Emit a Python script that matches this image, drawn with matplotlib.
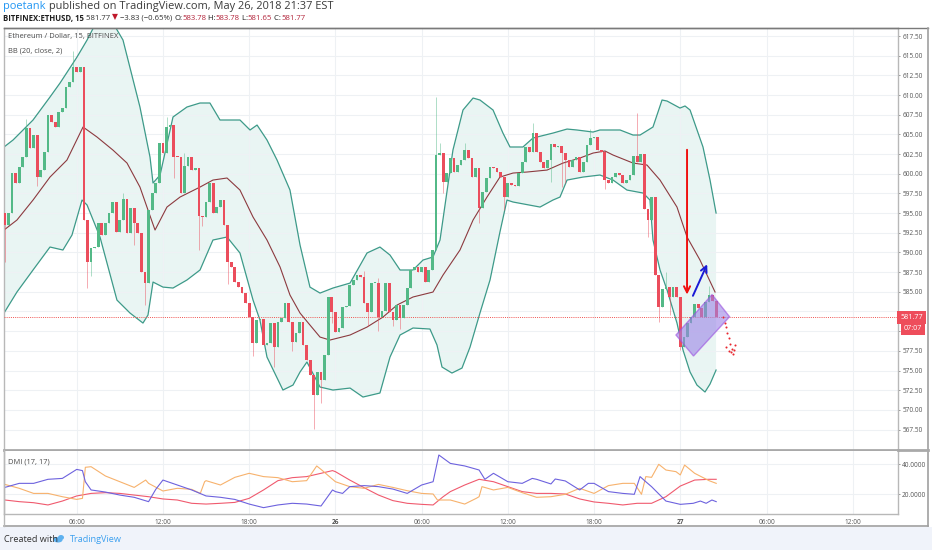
import matplotlib
matplotlib.use('agg')
import matplotlib.pyplot as plt
import matplotlib.transforms as mtransforms
from matplotlib.patches import Polygon, Rectangle, Ellipse
from matplotlib.lines import Line2D
import numpy as np

plt.rcParams['font.family'] = ['Open Sans', 'DejaVu Sans']

W, H = 932, 550

# ETH/USD 15 min candles, first bar 25 May 01:00 (x axis = hours since 25 May 00:00)
first_open = 594.97
closes = [
    593.48, 594.97, 600.05, 598.78, 600.90, 602.17, 605.77, 603.22, 604.92, 599.62,
    600.47, 602.80, 607.46, 606.61, 605.98, 607.88, 608.31, 611.06, 611.70, 613.60,
    612.97, 613.60, 594.12, 588.82, 590.52, 590.73, 593.78, 592.21, 593.78, 594.97,
    596.36, 592.64, 594.12, 596.74, 592.42, 595.60, 593.69, 592.42, 587.55, 586.07,
    595.39, 597.51, 598.78, 603.86, 602.59, 605.98, 606.19, 602.17, 602.08, 597.51,
    600.98, 602.17, 600.47, 600.68, 594.63, 594.54, 596.45, 598.78, 594.97, 595.81,
    596.66, 593.48, 588.82, 588.19, 586.28, 585.65, 584.80, 583.53, 581.84, 578.45,
    581.42, 581.50, 578.24, 578.45, 580.99, 578.03, 581.21, 581.63, 583.54, 581.21,
    578.66, 579.72, 581.21, 578.24, 576.33, 574.43, 571.89, 574.85, 573.79, 576.97,
    584.38, 582.48, 579.94, 580.36, 583.11, 583.20, 585.86, 586.50, 587.13, 586.92,
    583.53, 582.47, 586.07, 586.16, 581.84, 582.60, 586.07, 582.47, 581.41, 583.32,
    581.62, 583.32, 585.44, 587.77, 588.19, 587.55, 588.19, 586.28, 587.77, 590.31,
    602.38, 602.59, 598.99, 600.05, 601.95, 600.26, 601.11, 601.74, 603.01, 601.95,
    599.62, 600.68, 595.60, 597.72, 599.41, 600.90, 600.68, 600.26, 599.62, 597.08,
    598.78, 598.57, 598.44, 600.05, 601.53, 603.44, 602.80, 605.22, 602.80, 601.53,
    600.68, 601.74, 603.73, 603.44, 603.52, 602.59, 601.74, 600.90, 601.74, 602.17,
    600.26, 601.53, 603.65, 604.50, 604.71, 603.01, 602.80, 599.20, 598.78, 599.62,
    600.05, 599.84, 598.78, 599.20, 599.84, 602.25, 601.53, 602.50, 595.50, 594.10,
    597.10, 587.10, 583.10, 585.40, 585.60, 584.40, 585.60, 584.40, 578.00, 579.30,
    581.00, 581.80, 583.50, 582.90, 581.80, 583.70, 584.60, 583.78, 581.77,
]
# visible wicks (bar index: price)
wick_high = {6: 607.0, 19: 615.6, 33: 597.6, 45: 607.2, 50: 602.6, 100: 587.6,
             104: 586.8, 120: 609.8, 121: 603.9, 128: 603.9, 147: 606.4,
             163: 605.7, 176: 607.7, 184: 587.5, 196: 585.7}
wick_low = {0: 588.8, 9: 598.4, 23: 585.5, 24: 587.0, 36: 591.0, 39: 583.3,
            47: 599.4, 54: 590.3, 55: 593.4, 62: 586.0, 69: 576.8, 75: 575.5,
            80: 577.5, 86: 567.6, 88: 570.9, 91: 581.0, 101: 580.6, 104: 580.0,
            108: 580.6, 110: 580.3, 122: 597.5, 132: 593.7, 139: 595.4,
            152: 599.0, 155: 598.3, 156: 598.8, 167: 598.0, 179: 592.0,
            182: 581.2, 185: 582.0, 188: 577.6}

# Bollinger Bands (20, close, 2)
bb_up_t = [0.94, 1.57, 2.96, 4.14, 4.84, 6.02, 6.72, 7.62, 8.32, 9.22, 10.40, 11.10,
           11.31, 11.80, 12.70, 13.67, 14.58, 15.27, 15.97, 17.36, 18.06, 18.55, 19.24,
           19.94, 20.84, 21.54, 22.23, 22.93, 23.83, 25.02, 26.20, 27.10, 27.80, 28.50,
           29.40, 30.10, 30.79, 31.28, 32.18, 32.88, 33.58, 34.06, 34.97, 35.66, 36.15,
           37.05, 37.75, 39.14, 40.12, 40.81, 41.93, 42.41, 43.81, 44.71, 45.20, 46.10,
           46.73, 47.08, 47.98, 48.33, 48.68, 49.58, 50.07, 50.49]
bb_up = [603.40, 604.29, 606.83, 609.75, 611.53, 614.83, 616.99, 620.17, 619.79, 616.99,
         608.48, 602.12, 598.82, 599.84, 607.21, 608.48, 608.99, 608.99, 606.83, 606.83,
         605.56, 606.19, 604.29, 601.74, 597.93, 590.94, 585.60, 584.84, 585.48, 586.11,
         589.93, 590.69, 589.67, 587.77, 587.77, 589.04, 589.42, 591.58, 603.01, 608.10,
         609.62, 609.37, 608.10, 605.17, 603.40, 603.40, 604.54, 605.17, 605.68, 605.56,
         605.30, 605.56, 605.56, 604.92, 604.92, 605.94, 609.37, 609.24, 608.35, 608.61,
         608.10, 603.40, 599.20, 595.01]
bb_mid_t = [0.94, 1.84, 2.96, 4.14, 5.32, 6.44, 7.41, 8.52, 9.50, 10.40, 10.96, 11.45,
            12.28, 13.19, 14.58, 15.48, 16.46, 17.36, 18.27, 19.24, 20.15, 20.84, 21.54,
            22.23, 22.93, 23.62, 25.02, 26.20, 27.31, 28.29, 29.40, 30.79, 31.49, 32.67,
            33.58, 34.55, 35.45, 36.36, 37.33, 38.73, 39.84, 41.02, 41.93, 42.76, 43.32,
            44.71, 45.68, 46.59, 47.77, 48.47, 49.37, 50.42]
bb_mid = [592.85, 594.12, 596.66, 599.58, 601.74, 605.94, 604.67, 603.01, 601.36, 598.31,
          595.39, 592.85, 595.77, 597.04, 598.31, 599.20, 599.46, 597.93, 594.50, 591.58,
          588.15, 584.59, 582.30, 580.78, 579.25, 578.87, 579.51, 580.52, 581.79, 583.32,
          584.34, 584.97, 587.13, 590.31, 594.12, 597.04, 599.58, 600.09, 600.22, 600.47,
          601.36, 602.00, 602.63, 602.89, 602.38, 601.36, 601.11, 599.20, 595.77, 591.96,
          589.04, 584.97]
bb_lo_t = [0.94, 1.84, 2.96, 4.14, 5.04, 5.67, 6.37, 6.72, 7.62, 8.80, 9.71, 10.61, 10.96,
           11.31, 12.00, 12.70, 13.67, 14.58, 15.48, 16.46, 17.36, 18.27, 18.75, 19.24,
           20.35, 21.05, 21.54, 22.02, 22.93, 23.83, 25.02, 25.92, 27.10, 27.80, 28.50,
           29.40, 30.58, 31.07, 31.42, 32.11, 32.81, 33.37, 34.06, 34.76, 35.45, 35.94,
           36.36, 38.24, 39.14, 39.63, 40.12, 41.23, 42.41, 43.32, 44.29, 45.41, 45.89,
           46.10, 46.59, 47.08, 47.77, 48.19, 48.68, 49.16, 49.72, 50.07, 50.49]
bb_lo = [582.30, 584.97, 587.77, 590.69, 590.31, 592.21, 596.66, 596.03, 591.96, 583.95,
         582.30, 581.03, 582.05, 586.24, 585.60, 585.48, 586.50, 587.77, 591.58, 591.96,
         589.93, 583.95, 581.41, 576.71, 572.52, 573.15, 574.81, 576.08, 572.90, 572.52,
         572.77, 571.63, 572.14, 576.71, 579.51, 580.40, 580.27, 578.24, 575.44, 574.68,
         575.31, 577.98, 582.30, 586.50, 592.59, 596.66, 596.41, 595.77, 596.66, 597.04,
         599.20, 599.58, 599.84, 599.20, 597.93, 597.55, 596.66, 591.58, 587.77, 585.23,
         581.03, 577.60, 574.81, 573.15, 572.27, 573.28, 575.06]

# DMI (17, 17)
plus_di_t = [1, 2, 3, 4, 5, 6, 6.4, 6.6, 7, 8, 9, 10, 11, 11.5, 12, 13, 14, 15, 16, 17,
             18, 19, 20, 21, 22, 23, 23.8, 24, 24.5, 25, 26, 27, 28, 29, 30, 30.8, 31.2,
             32, 33, 34, 34.4, 35, 36, 37, 37.7, 38, 39, 39.3, 40, 41, 41.6, 42, 43, 44,
             44.8, 45.2, 45.6, 46, 47, 48, 48.9, 49.4, 49.8, 50.2, 50.5]
plus_di = [24.6, 27.3, 27.3, 30.0, 30.6, 36.6, 35.8, 28.4, 22.9, 21.5, 19.5, 18.0, 15.1,
           23.3, 29.5, 26.2, 22.9, 18.9, 18.0, 16.6, 13.5, 11.1, 12.9, 14.0, 13.5, 12.2,
           22.9, 21.8, 20.6, 25.1, 25.8, 25.1, 23.5, 20.6, 26.2, 28.4, 46.2, 40.6, 38.9,
           36.2, 30.0, 34.0, 28.4, 27.3, 30.6, 30.0, 26.9, 30.2, 28.9, 22.9, 27.3, 27.3,
           21.8, 20.6, 20.0, 31.8, 28.4, 25.1, 15.5, 13.3, 14.0, 15.5, 14.0, 16.2, 15.1]
minus_di_t = [1, 2, 3, 4, 5, 6, 6.4, 6.6, 7, 8, 9, 10, 10.8, 11, 12, 13, 14, 14.6, 14.9,
              15, 16, 17, 18, 19, 20, 21, 22, 22.7, 23, 24, 25, 26, 27, 28, 29, 30, 30.8,
              31.1, 32, 33, 33.8, 34, 34.2, 35, 36, 37, 38, 39, 40, 41, 42, 43, 44, 44.8,
              45.3, 45.6, 46, 46.5, 47, 47.7, 48, 48.3, 49, 50, 50.5]
minus_di = [26.6, 24.0, 20.6, 20.6, 18.4, 16.6, 17.3, 38.0, 38.4, 32.2, 28.4, 24.6, 29.5,
            27.3, 22.2, 24.0, 23.3, 20.6, 28.4, 29.1, 26.2, 31.3, 34.0, 31.8, 31.1, 28.4,
            29.1, 38.9, 36.6, 28.4, 25.1, 24.0, 26.6, 24.6, 22.4, 20.6, 20.2, 16.2, 16.2,
            13.5, 17.3, 18.4, 25.1, 22.9, 24.6, 21.1, 18.0, 18.4, 20.0, 24.0, 20.6, 25.8,
            27.3, 27.3, 20.0, 31.8, 31.3, 40.0, 36.2, 35.1, 32.9, 39.5, 34.0, 29.1, 27.3]
adx_t = [1, 2, 3, 4, 5, 6, 7, 8, 9, 10, 11, 12, 13, 14, 15, 16, 17, 18, 19, 20, 21, 22,
         23, 23.8, 24, 25, 26, 27, 28, 29, 30, 30.8, 31.5, 32, 33, 34, 35, 36, 37, 38, 39,
         40, 41, 42, 43, 44, 45, 46, 47, 48, 49, 50, 50.5]
adx = [16.2, 15.1, 14.4, 12.9, 15.5, 18.9, 20.6, 21.1, 20.6, 19.5, 18.4, 16.9, 16.2, 14.0,
       13.5, 14.0, 14.6, 17.3, 22.9, 29.1, 31.1, 31.8, 34.0, 35.8, 35.1, 29.5, 24.4, 19.5,
       15.8, 14.0, 13.3, 12.9, 18.4, 21.8, 26.2, 30.0, 28.4, 25.1, 21.8, 20.6, 20.6, 20.2,
       16.9, 14.9, 14.0, 12.9, 14.0, 14.0, 18.4, 25.5, 29.5, 30.0, 30.0]

# drawings on the chart
down_arrow = [(48.47, 603.4), (48.47, 584.3)]
up_arrow = [(48.80, 584.17), (49.95, 588.82)]
box = [(47.70, 579.51), (48.92, 576.84), (51.43, 581.83), (50.21, 584.65)]
dots_t = [50.95, 51.09, 51.18, 51.25, 51.37, 51.46, 51.83, 51.60, 51.18, 51.41, 51.55, 51.72, 51.65]
dots_p = [581.83, 581.00, 580.49, 579.80, 579.09, 578.36, 578.24, 577.73, 577.94, 577.47, 577.31, 577.56, 577.06]

time_ticks = [6, 12, 18, 24, 30, 36, 42, 48, 54, 60]
time_labels = ['06:00', '12:00', '18:00', '26', '06:00', '12:00', '18:00', '27', '06:00', '12:00']
price_ticks = np.arange(567.5, 618.0, 2.5)
hidden_price_labels = [580.0, 582.5]   # covered by the last-price tags

GREEN, RED = '#53b987', '#eb4d5c'
GRID = '#eef1f4'
TXT = '#4a4a4a'

fig = plt.figure(figsize=(W / 100, H / 100), dpi=100)
fig.patch.set_facecolor('white')

def fx(px):
    return px / W

def fy(py):
    return 1 - py / H

# ---- main price pane
ax = fig.add_axes([fx(4), fy(450), (898 - 4) / W, (450 - 28) / H])
ax.set_xlim(0.94, 63.15)
ax.set_ylim(564.9, 618.52)
ax.set_xticks(time_ticks)
ax.set_xticklabels([])
ax.tick_params(axis='x', length=0)
ax.set_yticks(price_ticks)
ax.set_yticklabels(['' if p in hidden_price_labels else '%.2f' % p for p in price_ticks])
ax.yaxis.tick_right()
ax.tick_params(axis='y', length=1.5, width=0.6, pad=1.5, labelsize=4.7, colors='#888888', labelcolor='#555555')
ax.grid(True, color=GRID, lw=0.8, zorder=0)
for s in ['left', 'right']:
    ax.spines[s].set_color('#b8b8b8')
    ax.spines[s].set_linewidth(1.0)
ax.spines['top'].set_color('#7a7a7a')
ax.spines['top'].set_linewidth(1.0)
ax.spines['bottom'].set_color('#a9a9a9')
ax.spines['bottom'].set_linewidth(2.0)

# Bollinger band fill and lines
ax.fill(np.r_[bb_up_t, bb_lo_t[::-1]], np.r_[bb_up, bb_lo[::-1]], color='#e4f3f0', alpha=0.8, lw=0, zorder=1)
ax.plot(bb_up_t, bb_up, color='#3d9a89', lw=0.9, zorder=2)
ax.plot(bb_lo_t, bb_lo, color='#3d9a89', lw=0.9, zorder=2)
ax.plot(bb_mid_t, bb_mid, color='#8c3a3f', lw=0.8, zorder=2)

# candles
c = np.array(closes)
o = np.r_[first_open, c[:-1]]
t = 1.0 + 0.25 * np.arange(len(c))
hi = np.maximum(o, c)
lo = np.minimum(o, c)
for i, v in wick_high.items():
    hi[i] = v
for i, v in wick_low.items():
    lo[i] = v
col = np.where(c >= o, GREEN, RED)
ax.vlines(t, lo, hi, colors=col, lw=0.6, alpha=0.55, zorder=3)
ax.bar(t, np.maximum(np.abs(c - o), 0.14), bottom=np.minimum(o, c), width=0.19,
       color=col, lw=0, zorder=4)

# last price line and tags
ax.axhline(c[-1], color='#ef5350', lw=0.7, ls=(0, (1, 1.2)), zorder=3)
tr = mtransforms.blended_transform_factory(ax.transAxes, ax.transData)
ax.text(1.0025, c[-1], '%.2f' % c[-1], transform=tr, ha='left', va='center', fontsize=5.2,
        color='white', zorder=10, clip_on=False,
        bbox=dict(boxstyle='square,pad=0.4', fc='#ee4d5b', ec='none'))
ax.annotate('07:07', xy=(1.0025, c[-1]), xycoords=tr, xytext=(2.5, -8.3), textcoords='offset points',
            ha='left', va='center', fontsize=5.2, color='white', zorder=10, annotation_clip=False,
            bbox=dict(boxstyle='square,pad=0.4', fc='#ee4d5b', ec='none'))

# drawings
ax.add_patch(Polygon(box, closed=True, fc='#9b84e6', ec='#9b4fe0', lw=1.0, alpha=0.6, zorder=6))
ax.annotate('', xy=down_arrow[1], xytext=down_arrow[0],
            arrowprops=dict(arrowstyle='->', color='#f01010', lw=1.4, mutation_scale=11), zorder=7)
ax.annotate('', xy=up_arrow[1], xytext=up_arrow[0],
            arrowprops=dict(arrowstyle='->', color='#1a1ad6', lw=1.4, mutation_scale=11), zorder=7)
ax.scatter(dots_t, dots_p, s=2.2, color='#e8272f', lw=0, zorder=7)

ax.text(0.0045, 0.979, 'Ethereum / Dollar, 15, BITFINEX', transform=ax.transAxes, fontsize=5.4,
        color=TXT, va='center', ha='left')
ax.text(0.0045, 0.946, 'BB (20, close, 2)', transform=ax.transAxes, fontsize=5.4,
        color=TXT, va='center', ha='left')

# ---- DMI pane
ax2 = fig.add_axes([fx(4), fy(514), (898 - 4) / W, (514 - 451) / H])
ax2.set_xlim(0.94, 63.15)
ax2.set_ylim(6.87, 48.87)
ax2.plot(adx_t, adx, color='#f05a6e', lw=0.8)
ax2.plot(minus_di_t, minus_di, color='#f7b26d', lw=0.8)
ax2.plot(plus_di_t, plus_di, color='#6d62de', lw=0.8)
ax2.set_yticks([20, 40])
ax2.set_yticklabels(['20.0000', '40.0000'])
ax2.yaxis.tick_right()
ax2.tick_params(axis='y', length=1.5, width=0.6, pad=1.5, labelsize=4.7, colors='#888888', labelcolor='#555555')
ax2.set_xticks(time_ticks)
ax2.set_xticklabels(time_labels)
ax2.tick_params(axis='x', length=0, pad=3.6, labelsize=4.7, labelcolor='#555555')
for lab in ax2.get_xticklabels():
    if lab.get_text() in ('26', '27'):
        lab.set_fontweight('bold')
ax2.grid(True, color=GRID, lw=0.8, zorder=0)
ax2.spines['top'].set_visible(False)
for s in ['left', 'right', 'bottom']:
    ax2.spines[s].set_color('#b8b8b8')
    ax2.spines[s].set_linewidth(1.0)
ax2.text(0.0045, 0.82, 'DMI (17, 17)', transform=ax2.transAxes, fontsize=5.4,
         color=TXT, va='center', ha='left')

# outer frame of the chart
fig.add_artist(Line2D([fx(4), fx(928)], [fy(28), fy(28)], color='#7a7a7a', lw=1.0))
fig.add_artist(Line2D([fx(928), fx(928)], [fy(28), fy(526)], color='#a0a0a0', lw=1.2))
fig.add_artist(Line2D([fx(4), fx(928)], [fy(526), fy(526)], color='#a0a0a0', lw=1.2))
fig.add_artist(Line2D([fx(4), fx(4)], [fy(450), fy(526)], color='#b8b8b8', lw=1.0))
fig.add_artist(Line2D([fx(898), fx(928)], [fy(450), fy(450)], color='#a9a9a9', lw=2.0))

# footer
fig.add_artist(Rectangle((0, 0), 1, fy(527), transform=fig.transFigure, fc='#f0f3fa', ec='none', zorder=-5))

fig.canvas.draw()
rend = fig.canvas.get_renderer()

def text_run(x, y, parts, size):
    for s, color, weight in parts:
        tx = fig.text(fx(x), fy(y), s, color=color, fontsize=size, fontweight=weight,
                      ha='left', va='center')
        x += tx.get_window_extent(rend).width

text_run(3, 7, [('poetank', '#2196f3', 'normal'),
                (' published on TradingView.com, May 26, 2018 21:37 EST', '#3b3b3b', 'normal')], 7.9)
VAL = '#b3263c'
text_run(3, 18, [('BITFINEX:ETHUSD, 15', '#1e1e1e', 'bold'),
                 (' 581.77 ', '#333333', 'normal'),
                 ('▼', '#c0182b', 'normal'),
                 (' −3.83 (−0.65%) ', '#333333', 'normal'),
                 ('O:', '#1e1e1e', 'normal'), ('583.78', VAL, 'normal'),
                 (' H:', '#1e1e1e', 'normal'), ('583.78', VAL, 'normal'),
                 (' L:', '#1e1e1e', 'normal'), ('581.65', VAL, 'normal'),
                 (' C:', '#1e1e1e', 'normal'), ('581.77', VAL, 'normal')], 5.6)

fig.text(fx(4), fy(539), 'Created with', fontsize=6.6, color='#333333', ha='left', va='center')
for cx, cy, w, h in [(58, 540, 9, 5), (61, 537.5, 6, 5), (56, 539, 5, 4)]:
    fig.add_artist(Ellipse((fx(cx), fy(cy)), w / W, h / H, transform=fig.transFigure,
                           fc='#5eb1ef', ec='none'))
fig.text(fx(70), fy(539), 'TradingView', fontsize=6.6, color='#3ca0ef', ha='left', va='center')

fig.savefig('out.png', dpi=100, facecolor='white')
